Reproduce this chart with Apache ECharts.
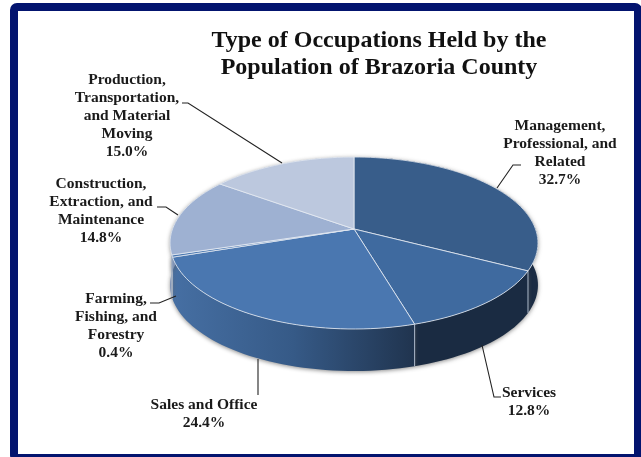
<!DOCTYPE html>
<html>
<head>
<meta charset="utf-8">
<title>Type of Occupations Held by the Population of Brazoria County</title>
<script src="https://cdn.jsdelivr.net/npm/echarts@6/dist/echarts.min.js"></script>
<style>
  html, body { margin: 0; padding: 0; background: #fff; }
  #chart { width: 641px; height: 457px; filter: blur(0.4px); }
</style>
</head>
<body>
<div id="chart"></div>
<script>
// data
const categories = ['Management,\nProfessional, and\nRelated', 'Services', 'Sales and Office', 'Farming,\nFishing, and\nForestry', 'Construction,\nExtraction, and\nMaintenance', 'Production,\nTransportation,\nand Material\nMoving'];
const shares = [32.7, 12.8, 24.4, 0.4, 14.8, 15.0];

// colours per slice
const topColors = ['#385d8a', '#3f6a9f', '#4a77b0', '#4a77b0', '#9eb1d2', '#bcc8de'];
const sideColors = ['#1b2c44', '#1a2b42', '', '#44709f', '#7f93b5', '#9aa9c4'];

// label placement: centre x, y of first line, leader line
const labelSpots = [[560, 126], [529, 393], [204, 405], [116, 299], [101, 184], [127, 80]];
const leaders = [
  [[521, 165], [513, 165], [497, 188]],
  [[501, 397], [494, 397], [482, 345]],
  [[258, 395], [258, 359]],
  [[150, 303], [159, 303], [176, 296]],
  [[157, 207], [166, 207], [178, 215]],
  [[182, 103], [188, 103], [282, 163]]
];

// tilted disc, the near side is bigger than the far side
const apexX = 354, apexY = 229, scaleX = 181.5, scaleY = 83.7, tilt = 0.163, depth = 42;
const total = shares.reduce((a, b) => a + b, 0);

function project(deg) {
  const t = deg * Math.PI / 180;
  const u = Math.sin(t), v = Math.cos(t);
  const d = 1 + tilt * v;
  return [apexX + scaleX * u / d, apexY - scaleY * v / d];
}
function sliceAngles(i) {
  let from = 0;
  for (let k = 0; k < i; k++) from += shares[k] / total * 360;
  return [from, from + shares[i] / total * 360];
}
function arc(from, to) {
  const pts = [];
  const n = Math.max(2, Math.ceil((to - from) / 2));
  for (let k = 0; k <= n; k++) pts.push(project(from + (to - from) * k / n));
  return pts;
}

const salesSide = new echarts.graphic.LinearGradient(172, 0, 414, 0, [
  { offset: 0, color: '#466fa3' },
  { offset: 0.5, color: '#365a87' },
  { offset: 1, color: '#20344f' }
], true);

function renderSide(params) {
  const i = params.dataIndex;
  const [from, to] = sliceAngles(i);
  const rim = arc(from, to);
  const lower = rim.map(p => [p[0], p[1] + depth]).reverse();
  const start = project(from);
  return {
    type: 'group',
    children: [
      {
        type: 'polygon',
        shape: { points: rim.concat(lower) },
        style: {
          fill: i === 2 ? salesSide : sideColors[i],
          shadowBlur: 4, shadowColor: 'rgba(90,90,90,0.7)', shadowOffsetY: 1
        }
      },
      {
        type: 'line',
        shape: { x1: start[0], y1: start[1], x2: start[0], y2: start[1] + depth },
        style: { stroke: '#a9b6c8', lineWidth: 1 }
      }
    ]
  };
}

function renderTop(params) {
  const [from, to] = sliceAngles(params.dataIndex);
  return {
    type: 'polygon',
    shape: { points: [[apexX, apexY]].concat(arc(from, to)) },
    style: { fill: topColors[params.dataIndex], stroke: '#e6ebf3', lineWidth: 0.8 }
  };
}

function renderLabel(params, api) {
  const i = params.dataIndex;
  const spot = labelSpots[i];
  return {
    type: 'group',
    children: [
      {
        type: 'polyline',
        shape: { points: leaders[i] },
        style: { stroke: '#222', lineWidth: 1.1, fill: null }
      },
      {
        type: 'text',
        style: {
          x: spot[0],
          y: spot[1] - 9,
          text: categories[i] + '\n' + api.value(0).toFixed(1) + '%',
          align: 'center',
          verticalAlign: 'top',
          lineHeight: 18,
          font: 'bold 15.5px "Liberation Serif"',
          fill: '#1a1a1a'
        }
      }
    ]
  };
}

const seriesData = shares.map((v, i) => ({ name: categories[i].replace(/\n/g, ' '), value: [v] }));

const chart = echarts.init(document.getElementById('chart'));
chart.setOption({
  animation: false,
  backgroundColor: '#fff',
  title: {
    text: 'Type of Occupations Held by the\nPopulation of Brazoria County',
    left: 374,
    top: 22,
    textAlign: 'center',
    textStyle: {
      fontFamily: '"Liberation Serif"',
      fontSize: 24,
      fontWeight: 'bold',
      color: '#111',
      lineHeight: 27
    }
  },
  graphic: [{
    type: 'rect',
    silent: true,
    shape: { x: 14, y: 7, width: 624, height: 451, r: 3 },
    style: { fill: 'none', stroke: '#03146f', lineWidth: 8 }
  }],
  series: [
    { type: 'custom', coordinateSystem: 'none', silent: true, z: 2, renderItem: renderSide, data: seriesData },
    { type: 'custom', coordinateSystem: 'none', silent: true, z: 3, renderItem: renderTop, data: seriesData },
    { type: 'custom', coordinateSystem: 'none', silent: true, z: 4, renderItem: renderLabel, data: seriesData }
  ]
});
</script>
</body>
</html>
